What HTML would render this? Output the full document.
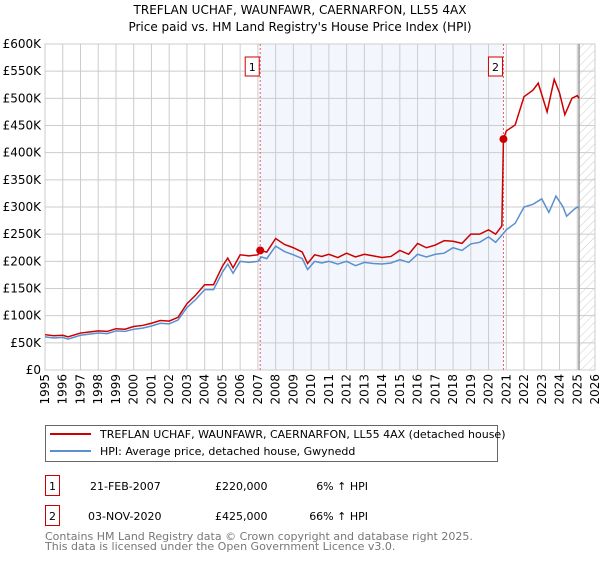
<!DOCTYPE html>
<html><head><meta charset="utf-8"><style>
body{margin:0;background:#fff;font-family:"DejaVu Sans","Liberation Sans",sans-serif}
svg text{font-family:"DejaVu Sans","Liberation Sans",sans-serif}
</style></head><body>
<svg id="chart" width="600" height="560" viewBox="0 0 600 560" xmlns="http://www.w3.org/2000/svg">
<defs><pattern id="hatch" width="6" height="6" patternUnits="userSpaceOnUse" patternTransform="rotate(45)"><line x1="0" y1="0" x2="0" y2="6" stroke="#ccc" stroke-width="1"/></pattern></defs>
<text x="300" y="14" text-anchor="middle" font-size="12">TREFLAN UCHAF, WAUNFAWR, CAERNARFON, LL55 4AX</text>
<text x="300" y="31" text-anchor="middle" font-size="12">Price paid vs. HM Land Registry's House Price Index (HPI)</text>
<g id="plot"></g>
<g>
<rect x="45.5" y="425.5" width="452" height="36" fill="#fff" stroke="#666"/>
<line x1="50" y1="434" x2="91" y2="434" stroke="#cc0000" stroke-width="2"/>
<text x="100" y="438" font-size="11">TREFLAN UCHAF, WAUNFAWR, CAERNARFON, LL55 4AX (detached house)</text>
<line x1="50" y1="451" x2="91" y2="451" stroke="#5b8fd0" stroke-width="2"/>
<text x="100" y="455" font-size="11">HPI: Average price, detached house, Gwynedd</text>
</g>
<g font-size="11">
<rect x="45.5" y="475.5" width="14" height="20" fill="#fff" stroke="#cc0000"/>
<text x="52.5" y="490" text-anchor="middle">1</text>
<text x="90" y="490">21-FEB-2007</text>
<text x="215" y="490">£220,000</text>
<text x="368" y="490" text-anchor="end">6% ↑ HPI</text>
<rect x="45.5" y="505.5" width="14" height="20" fill="#fff" stroke="#cc0000"/>
<text x="52.5" y="520" text-anchor="middle">2</text>
<text x="88" y="520">03-NOV-2020</text>
<text x="215" y="520">£425,000</text>
<text x="368" y="520" text-anchor="end">66% ↑ HPI</text>
</g>
<text x="45" y="540" font-size="11" fill="#777">Contains HM Land Registry data © Crown copyright and database right 2025.</text>
<text x="45" y="550" font-size="11" fill="#777">This data is licensed under the Open Government Licence v3.0.</text>
</svg>
<script>
const yTicks=[0,50,100,150,200,250,300,350,400,450,500,550,600];
const yTickLabels=["£0","£50K","£100K","£150K","£200K","£250K","£300K","£350K","£400K","£450K","£500K","£550K","£600K"];
const years=[1995,1996,1997,1998,1999,2000,2001,2002,2003,2004,2005,2006,2007,2008,2009,2010,2011,2012,2013,2014,2015,2016,2017,2018,2019,2020,2021,2022,2023,2024,2025,2026];
const hpiT=[1995,1995.5,1996,1996.3,1997,1997.5,1998,1998.5,1999,1999.5,2000,2000.5,2001,2001.5,2002,2002.5,2003,2003.5,2004,2004.5,2005,2005.3,2005.6,2006,2006.5,2007,2007.2,2007.5,2008,2008.5,2009,2009.5,2009.8,2010.2,2010.6,2011,2011.5,2012,2012.5,2013,2013.5,2014,2014.5,2015,2015.5,2016,2016.5,2017,2017.5,2018,2018.5,2019,2019.5,2020,2020.4,2020.8,2021,2021.5,2022,2022.5,2023,2023.4,2023.8,2024.2,2024.4,2024.8,2025,2025.1];
const hpiV=[61,59,60,57,64,66,68,67,72,71,75,77,81,86,85,92,115,130,148,148,180,195,178,200,198,200,208,205,228,218,212,205,185,200,197,200,195,200,192,198,196,195,197,203,198,213,208,213,215,225,220,232,235,245,235,250,258,270,300,305,315,290,320,300,283,295,300,298];
const priceT=[1995,1995.5,1996,1996.3,1997,1997.5,1998,1998.5,1999,1999.5,2000,2000.5,2001,2001.5,2002,2002.5,2003,2003.5,2004,2004.5,2005,2005.3,2005.6,2006,2006.5,2007,2007.13,2007.5,2008,2008.5,2009,2009.5,2009.8,2010.2,2010.6,2011,2011.5,2012,2012.5,2013,2013.5,2014,2014.5,2015,2015.5,2016,2016.5,2017,2017.5,2018,2018.5,2019,2019.5,2020,2020.4,2020.75,2020.84,2021,2021.5,2022,2022.5,2022.8,2023.3,2023.7,2024,2024.3,2024.7,2025,2025.1];
const priceV=[65,63,64,61,68,70,72,71,76,75,80,82,86,91,90,97,122,138,157,157,191,206,188,212,210,212,220,217,242,231,225,217,196,212,209,213,207,215,208,213,210,207,209,220,213,233,225,230,238,237,233,250,250,258,250,265,425,440,451,503,515,528,475,535,510,470,500,505,500];
const sales=[{t:2007.13,v:220,label:"1"},{t:2020.84,v:425,label:"2"}];
const X0=45,X1=595,Y0=370,Y1=44;
const xs=t=>X0+(t-1995)/(2026-1995)*(X1-X0);
const ys=v=>Y0-v/600*(Y0-Y1);
const NS="http://www.w3.org/2000/svg";
const g=document.getElementById('plot');
function mk(tag,attrs){const e=document.createElementNS(NS,tag);for(const k in attrs)e.setAttribute(k,attrs[k]);g.appendChild(e);return e;}
let e=mk('rect',{x:xs(sales[0].t),y:Y1,width:xs(sales[1].t)-xs(sales[0].t),height:Y0-Y1,fill:'#eef3fc',opacity:0.7});


e=mk('rect',{x:xs(2025.1),y:Y1,width:X1-xs(2025.1),height:Y0-Y1,fill:'url(#hatch)'});


yTicks.forEach((v,i)=>{
 let l=mk('line',{x1:X0,x2:X1,y1:ys(v),y2:ys(v),stroke:'#ccc'});
 
 
 let t=mk('text',{x:X0-4,y:ys(v)+4,'text-anchor':'end','font-size':12});
 
 
 t.textContent=yTickLabels[i];
});
years.forEach(yr=>{
 let l=mk('line',{x1:xs(yr),x2:xs(yr),y1:Y1,y2:Y0,stroke:'#ccc'});
 
 
 let t=mk('text',{x:0,y:0,'text-anchor':'end','font-size':12,transform:`translate(${xs(yr)+4},${Y0+4}) rotate(-90)`});
 
 
 t.textContent=yr;
});
e=mk('rect',{x:X0,y:Y1,width:X1-X0,height:Y0-Y1,fill:'none',stroke:'#ccc'});


e=mk('line',{x1:xs(2025.1),x2:xs(2025.1),y1:Y1,y2:Y0,stroke:'#999',"stroke-width":1.5});


sales.forEach(s=>{
 let l=mk('line',{x1:xs(s.t),x2:xs(s.t),y1:Y1,y2:Y0,stroke:'#e06060','stroke-dasharray':'2,2'});
 
 
 let r=mk('rect',{x:xs(s.t)-15,y:57,width:14,height:19,fill:'#fff',stroke:'#cc0000'});
 
 
 let t=mk('text',{x:xs(s.t)-8,y:71,'text-anchor':'middle','font-size':11});
 
 
 t.textContent=s.label;
});
e=mk('polyline',{points:hpiT.map((t,i)=>xs(t)+','+ys(hpiV[i])).join(' '),fill:'none',stroke:'#5b8fd0','stroke-width':1.5});


e=mk('polyline',{points:priceT.map((t,i)=>xs(t)+','+ys(priceV[i])).join(' '),fill:'none',stroke:'#cc0000','stroke-width':1.5});


sales.forEach(s=>{
 let c=mk('circle',{cx:xs(s.t),cy:ys(s.v),r:4,fill:'#cc0000'});
 
 
});
</script>
</body></html>
